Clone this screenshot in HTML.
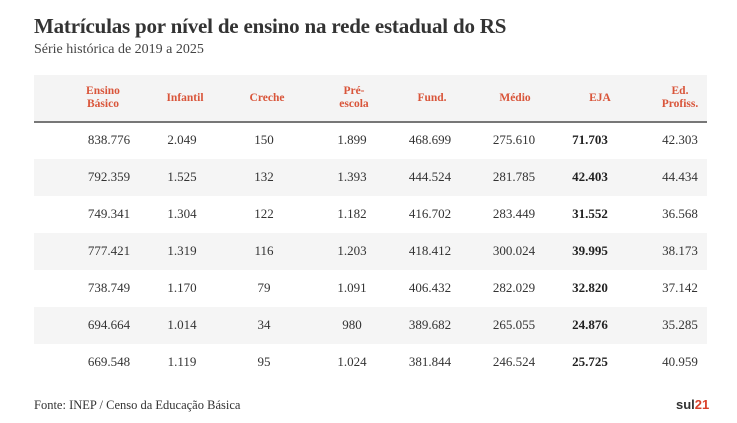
<!DOCTYPE html><html><head><meta charset="utf-8"><style>
body{margin:0;width:737px;height:423px;background:#fff;position:relative;overflow:hidden;font-family:"Liberation Serif",serif;color:#333}
.t{position:absolute;left:34px;top:14px;font-size:21px;font-weight:bold;color:#333;letter-spacing:-0.2px}
.s{position:absolute;left:34px;top:42px;font-size:14px;color:#444}
.hd{position:absolute;left:34px;top:75px;width:673px;height:46px;background:#f4f4f4;border-bottom:2px solid #777}
.r{position:absolute;left:34px;width:673px;height:37px}
.g{background:#f5f5f5}
.c{position:absolute;width:90px;margin-left:-45px;text-align:center;font-size:13px}
.h{color:#d9553a;font-weight:bold;font-size:11.5px;line-height:13px}
.b{font-weight:bold;color:#222}
.f{position:absolute;left:34px;top:398px;font-size:12.5px;color:#333}
.l{position:absolute;left:676px;top:397px;font-family:"Liberation Sans",sans-serif;font-weight:bold;font-size:13px;color:#333}
</style></head><body>
<div class="t">Matrículas por nível de ensino na rede estadual do RS</div>
<div class="s">Série histórica de 2019 a 2025</div>
<div class="hd"></div>
<div class="r g" style="top:159px"></div>
<div class="r g" style="top:233px"></div>
<div class="r g" style="top:307px"></div>
<div id="x"></div>
<div class="f">Fonte: INEP / Censo da Educação Básica</div>
<div class="l">sul<span style="color:#d9402a">21</span></div>
<div class="c h" style="left:103px;top:85px">Ensino<br>Básico</div>
<div class="c h" style="left:185px;top:92px">Infantil</div>
<div class="c h" style="left:267px;top:92px">Creche</div>
<div class="c h" style="left:354px;top:85px">Pré-<br>escola</div>
<div class="c h" style="left:432px;top:92px">Fund.</div>
<div class="c h" style="left:515px;top:92px">Médio</div>
<div class="c h" style="left:600px;top:92px">EJA</div>
<div class="c h" style="left:680px;top:85px">Ed.<br>Profiss.</div>
<script>
var d=[["838.776","2.049","150","1.899","468.699","275.610","71.703","42.303"],
["792.359","1.525","132","1.393","444.524","281.785","42.403","44.434"],
["749.341","1.304","122","1.182","416.702","283.449","31.552","36.568"],
["777.421","1.319","116","1.203","418.412","300.024","39.995","38.173"],
["738.749","1.170","79","1.091","406.432","282.029","32.820","37.142"],
["694.664","1.014","34","980","389.682","265.055","24.876","35.285"],
["669.548","1.119","95","1.024","381.844","246.524","25.725","40.959"]];
var xs=[109,182,264,352,430,514,590,680],h="";
d.forEach(function(r,i){r.forEach(function(v,j){h+='<div class="c'+(j==6?' b':'')+'" style="left:'+xs[j]+'px;top:'+(132+i*37)+'px">'+v+'</div>';});});
document.getElementById("x").innerHTML=h;
</script>
</body></html>
